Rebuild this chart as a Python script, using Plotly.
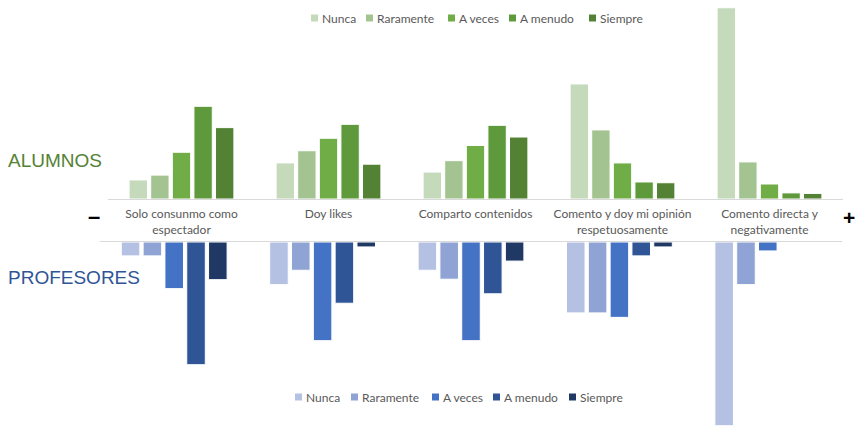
import plotly.graph_objects as go

W, H = 855, 427

categories = ["Solo consunmo como<br>espectador", "Doy likes", "Comparto contenidos",
              "Comento y doy mi opinión<br>respetuosamente", "Comento directa y<br>negativamente"]
levels = ["Nunca", "Raramente", "A veces", "A menudo", "Siempre"]

# Alumnos (%), per level, across categories
alumnos = {
    "Nunca":     [7.5, 14.2, 10.6, 45.3, 75.3],
    "Raramente": [9.4, 19.0, 15.1, 27.2, 14.6],
    "A veces":   [18.4, 23.9, 21.1, 14.2, 5.9],
    "A menudo":  [36.5, 29.4, 29.0, 6.7, 2.4],
    "Siempre":   [28.1, 13.7, 24.4, 6.4, 2.2],
}
# Profesores (%), per level, across categories
profesores = {
    "Nunca":     [5.9, 18.1, 12.0, 30.1, 78.0],
    "Raramente": [5.9, 12.0, 15.8, 30.1, 18.1],
    "A veces":   [19.8, 41.9, 41.9, 32.0, 3.8],
    "A menudo":  [52.1, 26.0, 22.0, 5.9, 0.0],
    "Siempre":   [16.0, 2.1, 8.1, 2.1, 0.0],
}

green = ["#c5d9bb", "#a3c491", "#70ad47", "#5e9a3c", "#548235"]
blue = ["#b4c1e3", "#8fa3d4", "#4472c4", "#2f5597", "#203864"]

# legend layout (pixel x of marker start for each entry, and legend row y)
legend_top_x = [311, 366, 448, 509, 589]
legend_top_y = 18
legend_bot_x = [295, 351, 432, 493, 569]
legend_bot_y = 397

font_txt = "Lato, 'Open Sans', sans-serif"

fig = go.Figure()
for i, lv in enumerate(levels):
    fig.add_trace(go.Bar(
        x=categories, y=alumnos[lv], name=lv, marker=dict(color=green[i], line=dict(color="white", width=1)),
        xaxis="x", yaxis="y", showlegend=False, hoverinfo="skip"))
for i, lv in enumerate(levels):
    fig.add_trace(go.Bar(
        x=categories, y=profesores[lv], name=lv, marker=dict(color=blue[i], line=dict(color="white", width=1)),
        xaxis="x2", yaxis="y2", showlegend=False, hoverinfo="skip"))


def px_x(p):
    return p / W


def px_y(p):
    return (H - p) / H


top_base, top_top = 199, 5
bot_base, bot_bot = 242, 427
top_scale = 2.54
bot_scale = 2.355

fig.update_layout(
    width=W, height=H,
    margin=dict(l=0, r=0, t=0, b=0),
    paper_bgcolor="white", plot_bgcolor="white",
    barmode="group", bargap=0.265, bargroupgap=0.15,
    font=dict(family=font_txt, size=12, color="#595959"),
    xaxis=dict(domain=[px_x(108), px_x(843)], anchor="y", showgrid=False, showline=True,
               linecolor="#d9d9d9", linewidth=1, ticks="", tickfont=dict(size=12, color="#595959"),
               ticklabelstandoff=4, zeroline=False),
    yaxis=dict(domain=[px_y(top_base), px_y(top_top)], range=[0, (top_base - top_top) / top_scale],
               anchor="x", visible=False, showgrid=False, zeroline=False),
    xaxis2=dict(domain=[px_x(100), px_x(842)], anchor="y2", side="top", showgrid=False, showline=True,
                linecolor="#d9d9d9", linewidth=1, ticks="", showticklabels=False, zeroline=False),
    yaxis2=dict(domain=[px_y(bot_bot), px_y(bot_base)], range=[(bot_bot - bot_base) / bot_scale, 0],
                anchor="x2", visible=False, showgrid=False, zeroline=False),
    showlegend=False,
)

# custom legends (compact Excel-style)
for xs, yy, cols in [(legend_top_x, legend_top_y, green), (legend_bot_x, legend_bot_y, blue)]:
    for i, lv in enumerate(levels):
        x0 = xs[i]
        fig.add_shape(type="rect", xref="paper", yref="paper",
                      x0=px_x(x0), x1=px_x(x0 + 7), y0=px_y(yy + 3.5), y1=px_y(yy - 3.5),
                      fillcolor=cols[i], line=dict(width=0))
        fig.add_annotation(text=lv, x=px_x(x0 + 9), y=px_y(yy), xref="paper", yref="paper",
                           xanchor="left", yanchor="middle", showarrow=False,
                           font=dict(family=font_txt, size=12, color="#595959"))

fig.add_annotation(text="ALUMNOS", x=px_x(6), y=px_y(160), xref="paper", yref="paper",
                   xanchor="left", yanchor="middle", showarrow=False,
                   font=dict(family="Liberation Sans, Arial, sans-serif", size=19, color="#548235"))
fig.add_annotation(text="PROFESORES", x=px_x(6), y=px_y(277), xref="paper", yref="paper",
                   xanchor="left", yanchor="middle", showarrow=False,
                   font=dict(family="Liberation Sans, Arial, sans-serif", size=19, color="#2f5597"))
fig.add_annotation(text="<b>–</b>", x=px_x(93.5), y=px_y(216), xref="paper", yref="paper",
                   xanchor="center", yanchor="middle", showarrow=False,
                   font=dict(family="Liberation Sans, Arial, sans-serif", size=22, color="black"))
fig.add_annotation(text="<b>+</b>", x=px_x(849), y=px_y(217), xref="paper", yref="paper",
                   xanchor="center", yanchor="middle", showarrow=False,
                   font=dict(family="Liberation Sans, Arial, sans-serif", size=21, color="black"))

fig.write_html("out.html")
